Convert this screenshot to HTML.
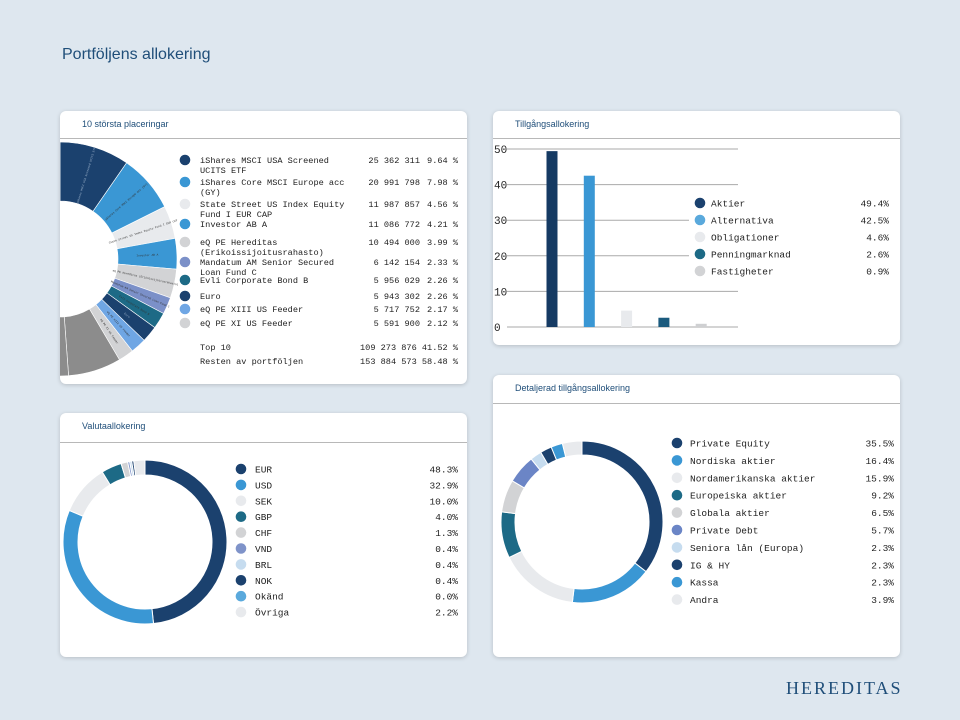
<!DOCTYPE html>
<html><head><meta charset="utf-8">
<style>
body{margin:0;width:960px;height:720px;background:#dee7ef;position:relative;overflow:hidden;font-family:"Liberation Sans",sans-serif;}
.title{position:absolute;left:62px;top:46px;font-size:16px;color:#1f4e79;}
.card{position:absolute;background:#fff;border-radius:6px;box-shadow:0 1px 4px rgba(0,0,0,0.18);overflow:hidden;}
.card .hd{position:absolute;left:22px;top:8px;font-size:9px;color:#1f4e79;}
.card .rule{position:absolute;left:0;right:0;height:1px;background:#b8b8b8;}
.logo{position:absolute;left:786px;top:678px;font-family:"Liberation Serif",serif;font-size:18px;letter-spacing:2px;color:#1f4e79;}
svg{position:absolute;left:0;top:0;}
</style></head><body>
<div class="title">Portföljens allokering</div>

<div class="card" style="left:60px;top:111px;width:407px;height:273px">
 <div class="hd">10 största placeringar</div>
 <div class="rule" style="top:27px"></div>
 <svg id="s1" width="407" height="273"></svg>
</div>
<div class="card" style="left:493px;top:111px;width:407px;height:234px">
 <div class="hd">Tillgångsallokering</div>
 <div class="rule" style="top:27px"></div>
 <svg id="s2" width="407" height="234"></svg>
</div>
<div class="card" style="left:60px;top:413px;width:407px;height:244px">
 <div class="hd">Valutaallokering</div>
 <div class="rule" style="top:29px"></div>
 <svg id="s3" width="407" height="244"></svg>
</div>
<div class="card" style="left:493px;top:375px;width:407px;height:282px">
 <div class="hd">Detaljerad tillgångsallokering</div>
 <div class="rule" style="top:28px"></div>
 <svg id="s4" width="407" height="282"></svg>
</div>
<div class="logo">HEREDITAS</div>

<script>
const NS='http://www.w3.org/2000/svg';
// Top holdings
const holdNames=[["iShares MSCI USA Screened","UCITS ETF"],["iShares Core MSCI Europe acc","(GY)"],["State Street US Index Equity","Fund I EUR CAP"],["Investor AB A"],["eQ PE Hereditas","(Erikoissijoitusrahasto)"],["Mandatum AM Senior Secured","Loan Fund C"],["Evli Corporate Bond B"],["Euro"],["eQ PE XIII US Feeder"],["eQ PE XI US Feeder"]];
const holdAmounts=["25 362 311","20 991 798","11 987 857","11 086 772","10 494 000","6 142 154","5 956 029","5 943 302","5 717 752","5 591 900"];
const holdPct=[9.64,7.98,4.56,4.21,3.99,2.33,2.26,2.26,2.17,2.12];
const holdColors=["#1b416e","#3a97d4","#e8eaed","#3a97d4","#d2d3d5","#7b90c8","#1d6a86","#1b416e","#6fa6e4","#d2d3d5"];
const restPct=58.48;
const holdTotals=[["Top 10","109 273 876","41.52 %"],["Resten av portföljen","153 884 573","58.48 %"]];
// Asset allocation
const assetNames=["Aktier","Alternativa","Obligationer","Penningmarknad","Fastigheter"];
const assetVals=[49.4,42.5,4.6,2.6,0.9];
const assetColors=["#153a63","#3a97d4","#e8eaed","#1b5b7e","#cfd0d2"];
const assetDot=["#1b416e","#5aa9dc","#e8eaed","#1d6a86","#d2d3d5"];
const assetTicks=[0,10,20,30,40,50];
// Currency
const curNames=["EUR","USD","SEK","GBP","CHF","VND","BRL","NOK","Okänd","Övriga"];
const curVals=[48.3,32.9,10.0,4.0,1.3,0.4,0.4,0.4,0.0,2.2];
const curColors=["#1b416e","#3a97d4","#e8eaed","#1d6a86","#d2d3d5","#7f93c9","#c6dcef","#1b416e","#5aa9dc","#e8eaed"];
// Detailed
const detNames=["Private Equity","Nordiska aktier","Nordamerikanska aktier","Europeiska aktier","Globala aktier","Private Debt","Seniora lån (Europa)","IG & HY","Kassa","Andra"];
const detVals=[35.5,16.4,15.9,9.2,6.5,5.7,2.3,2.3,2.3,3.9];
const detColors=["#1b416e","#3a97d4","#e8eaed","#1d6a86","#d2d3d5","#6b85c6","#c6dcef","#1b416e","#3a97d4","#e8eaed"];

function el(svg,tag,attrs,txt){const e=document.createElementNS(NS,tag);for(const k in attrs)e.setAttribute(k,attrs[k]);if(txt!==undefined)e.textContent=txt;svg.appendChild(e);return e;}
function arc(cx,cy,r0,r1,a0,a1){const p=(r,a)=>[cx+r*Math.sin(a),cy-r*Math.cos(a)];const l=(a1-a0)>Math.PI?1:0;const [x0,y0]=p(r1,a0),[x1,y1]=p(r1,a1),[x2,y2]=p(r0,a1),[x3,y3]=p(r0,a0);
return `M${x0} ${y0}A${r1} ${r1} 0 ${l} 1 ${x1} ${y1}L${x2} ${y2}A${r0} ${r0} 0 ${l} 0 ${x3} ${y3}Z`;}
function donut(svg,cx,cy,r0,r1,vals,cols,name,sw){const tot=vals.reduce((a,b)=>a+b,0);let a=0;vals.forEach((v,i)=>{if(v<=0)return;const a1=a+v/tot*2*Math.PI;
const p=el(svg,'path',{d:arc(cx,cy,r0,r1,a,a1),fill:cols[i],stroke:'#fff','stroke-width':sw});


a=a1;});}
function dot(svg,x,y,c,name){const d=el(svg,'circle',{cx:x,cy:y,r:5.3,fill:c});}
function txt(svg,x,y,s,anchor,name,fs){const t=el(svg,'text',{x:x,y:y,'font-family':'Liberation Mono, monospace','font-size':fs||9.5,fill:'#222','text-anchor':anchor||'start'},s);return t;}

// Chart 1
(function(){const s=document.getElementById('s1');const cx=0,cy=148,r0=58,r1=117;
const vals=holdPct.slice();const cols=holdColors.slice();
const n=8;for(let i=0;i<n;i++){vals.push(restPct/n);cols.push('#8c8c8c');}
donut(s,cx,cy,r0,r1,vals,cols,'holding',0.6);
let a=0;holdPct.forEach((v,i)=>{const am=(a+v/2)/100*2*Math.PI;const rr=(r0+r1)/2;const x=cx+rr*Math.sin(am),y=cy-rr*Math.cos(am);
const t=el(s,'text',{x:x,y:y+1,'font-family':'Liberation Mono, monospace','font-size':2.8,fill:i==0||i==7?'#9fb4cc':'#333','text-anchor':'middle',transform:`rotate(${am*180/Math.PI-90} ${x} ${y})`},holdNames[i].join(' '));
a+=v;});
const rows=[49,71,93,113,131,151,169,185,198,212];const fs=8.6;
holdNames.forEach((nm,i)=>{const y=rows[i];dot(s,125,y,holdColors[i],'legend-dot-'+i);
nm.forEach((line,j)=>txt(s,140,y+3.2+j*10,line,'start','legend-name-'+i,fs));
txt(s,360,y+3.2,holdAmounts[i],'end','legend-amount-'+i,fs);
txt(s,398,y+3.2,holdPct[i].toFixed(2)+' %','end','legend-pct-'+i,fs);});
holdTotals.forEach((r,i)=>{const y=239+i*14;txt(s,140,y,r[0],'start','total-name-'+i,fs);txt(s,398,y,r[1]+' '+r[2],'end','total-value-'+i,fs);});
})();

// Chart 2
(function(){const s=document.getElementById('s2');const y0=216,y1=38,vmax=50;const Y=v=>y0-(v/vmax)*(y0-y1);
assetTicks.forEach(t=>{const g=el(s,'line',{x1:14,x2:245,y1:Y(t),y2:Y(t),stroke:'#aaa','stroke-width':1});
const l=el(s,'text',{x:1,y:Y(t)+4,'font-family':'Liberation Mono, monospace','font-size':11,fill:'#222'},String(t));});
const x0=59,step=37.3,bw=11;
assetVals.forEach((v,i)=>{const b=el(s,'rect',{x:x0+i*step-bw/2,y:Y(v),width:bw,height:y0-Y(v),fill:assetColors[i]});});
const bg=el(s,'rect',{x:196,y:79,width:205,height:100,fill:'#fff'});
assetNames.forEach((n,i)=>{const y=92+i*17;dot(s,207,y,assetDot[i],'legend-dot-'+i);txt(s,218,y+3.5,n,'start','legend-name-'+i);txt(s,396,y+3.5,assetVals[i].toFixed(1)+'%','end','legend-value-'+i);});
})();

// Chart 3
(function(){const s=document.getElementById('s3');donut(s,85,129,67,82,curVals,curColors,'currency',1);
curNames.forEach((n,i)=>{const y=56+i*15.9;dot(s,181,y,curColors[i],'legend-dot-'+i);txt(s,195,y+3.5,n,'start','legend-name-'+i);txt(s,398,y+3.5,curVals[i].toFixed(1)+'%','end','legend-value-'+i);});
})();

// Chart 4
(function(){const s=document.getElementById('s4');donut(s,89,147,67,81,detVals,detColors,'detailed',1);
detNames.forEach((n,i)=>{const y=68+i*17.4;dot(s,184,y,detColors[i],'legend-dot-'+i);txt(s,197,y+3.5,n,'start','legend-name-'+i);txt(s,401,y+3.5,detVals[i].toFixed(1)+'%','end','legend-value-'+i);});
})();
</script>
</body></html>
